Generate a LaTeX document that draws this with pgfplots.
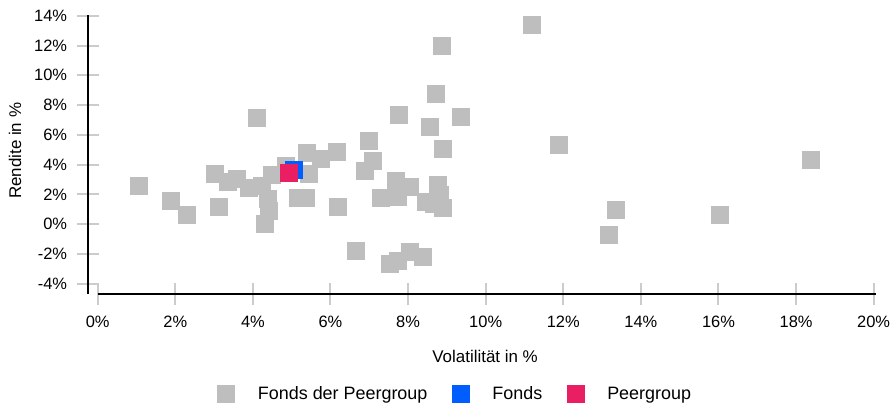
\documentclass[border=0pt]{standalone}
\usepackage{fontspec}
\setmainfont{Liberation Sans}
\usepackage{pgfplots}
\pgfplotsset{compat=1.18}
\definecolor{peergray}{RGB}{190,190,190}
\definecolor{fondsblue}{RGB}{0,94,255}
\definecolor{peerpink}{RGB}{233,30,99}
\definecolor{tickgray}{RGB}{204,204,204}
\begin{document}
\begin{tikzpicture}
\begin{axis}[
  scale only axis,
  width=787.3bp, height=279bp,
  xmin=-0.242, xmax=20.05, ymin=-4.68, ymax=14.05,
  axis line style={draw=none},
  clip=false,
  xtick pos=bottom, ytick pos=left,
  xtick={0,2,4,6,8,10,12,14,16,18,20},
  xticklabels={0\%,2\%,4\%,6\%,8\%,10\%,12\%,14\%,16\%,18\%,20\%},
  ytick={-4,-2,0,2,4,6,8,10,12,14},
  yticklabels={-4\%,-2\%,0\%,2\%,4\%,6\%,8\%,10\%,12\%,14\%},
  tick align=center,
  major tick length=22bp,
  every tick/.style={tickgray, line width=2bp},
  tick label style={font=\fontsize{16.5}{18}\selectfont, inner sep=0pt},
  xticklabel style={anchor=north, yshift=-11bp},
  yticklabel style={anchor=east, xshift=-10bp},
  xlabel={Volatilität in \%},
  ylabel={Rendite in \%},
  label style={font=\fontsize{17}{19}\selectfont, inner sep=0pt},
  xlabel style={at={(axis description cs:0.504,-0.224)}, anchor=center},
  ylabel style={at={(axis description cs:-0.0931,0.513)}, anchor=center},
  legend columns=3,
  legend style={at={(axis description cs:0.1647,-0.358)}, anchor=west,
    draw=none, fill=none, inner sep=0pt, outer sep=0pt,
    font=\fontsize{18}{20}\selectfont,
    nodes={inner sep=0pt},
    /tikz/every odd column/.append style={column sep=23bp},
    /tikz/every even column/.append style={column sep=25bp}},
  legend image code/.code={\draw[mark repeat=2,mark phase=2] plot coordinates {(0bp,0bp)(8.5bp,0bp)(17bp,0bp)};},
]
\addplot[only marks, mark=square*, mark size=8.5bp,
  mark options={fill=peergray, draw=peergray, line width=0pt}]
  table {
x y
8.87 11.95
8.72 8.72
4.11 7.11
7.76 7.32
9.36 7.18
8.56 6.51
6.99 5.57
8.90 5.03
5.40 4.77
6.17 4.83
5.75 4.36
7.09 4.23
4.85 3.90
4.49 3.29
5.45 3.36
3.02 3.36
3.59 3.02
3.36 2.82
6.89 3.56
1.07 2.55
3.90 2.42
4.24 2.55
4.39 1.68
4.42 0.89
4.31 0.00
1.89 1.54
2.31 0.60
3.13 1.14
5.16 1.74
5.37 1.74
6.19 1.14
7.31 1.74
7.70 2.89
8.06 2.48
7.74 1.86
8.77 2.62
8.81 1.95
8.47 1.48
8.67 1.36
8.90 1.07
6.66 -1.81
7.53 -2.69
7.74 -2.48
8.06 -1.88
8.38 -2.21
11.19 13.36
11.88 5.30
18.39 4.30
13.35 0.94
13.19 -0.74
16.05 0.60
};
\addlegendentry{Fonds der Peergroup}
\addplot[only marks, mark=square*, mark size=8.5bp,
  mark options={fill=fondsblue, draw=fondsblue, line width=0pt}]
  coordinates {(5.06,3.62)};
\addlegendentry{Fonds}
\addplot[only marks, mark=square*, mark size=8.5bp,
  mark options={fill=peerpink, draw=peerpink, line width=0pt}]
  coordinates {(4.93,3.42)};
\addlegendentry{Peergroup}
\draw[line width=2.2bp, black] (axis cs:-0.242,-4.68) -- (axis cs:-0.242,14.05);
\draw[line width=2.2bp, black] (axis cs:0,-4.68) -- (axis cs:20.05,-4.68);
\end{axis}
\pgfresetboundingbox
\useasboundingbox (current axis.south west) ++(-88.3bp,-113bp) rectangle ++(890bp,407bp);
\end{tikzpicture}
\end{document}
